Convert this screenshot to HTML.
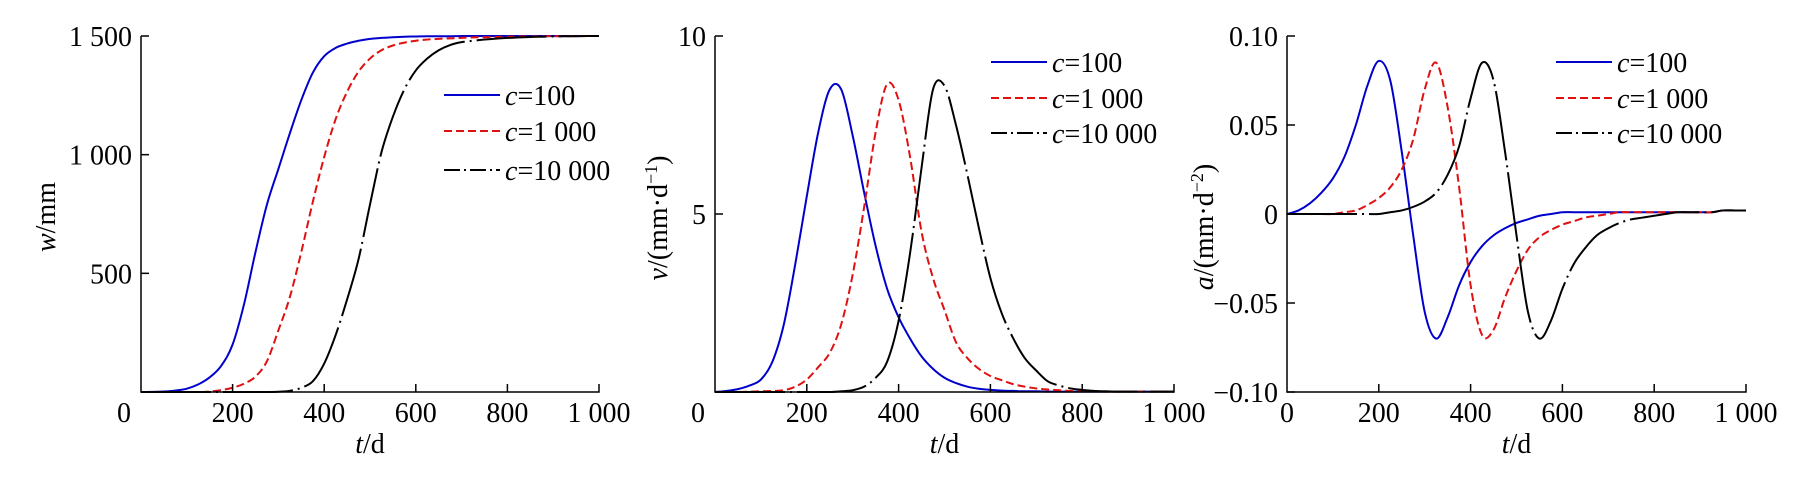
<!DOCTYPE html>
<html><head><meta charset="utf-8"><style>
html,body{margin:0;padding:0;background:#fff;}
svg{display:block;}
text{font-family:"Liberation Serif",serif;fill:#000;}
</style></head><body>
<svg id="chart" width="1797" height="478" viewBox="0 0 1797 478"></svg>
<script>
const tDays=[0,25,50,75,100,125,150,175,200,225,250,275,300,325,350,375,400,425,450,475,500,525,550,575,600,625,650,675,700,725,750,775,800,825,850,875,900,925,950,975,1000];
const seriesLabels=["c=100","c=1 000","c=10 000"];
const wC100=[0,0.5,2,6,14,32,62,110,200,370,590,790,940,1090,1230,1345,1415,1450,1468,1480,1488,1492,1495,1497,1498,1499,1499,1499,1500,1500,1500,1500,1500,1500,1500,1500,1500,1500,1500,1500,1500];
const wC1000=[0,0,0,0,0,0,2,8,18,35,65,130,260,400,590,800,990,1150,1265,1350,1405,1440,1460,1472,1480,1485,1488,1490,1492,1494,1495,1496,1497,1498,1498,1499,1499,1499,1500,1500,1500];
const wC10000=[0,0,0,0,0,0,0,0,0,0,0,0,1,5,18,45,120,240,390,560,790,1010,1160,1275,1355,1405,1440,1462,1474,1480,1485,1489,1492,1494,1496,1497,1498,1499,1499,1500,1500];
const vC100=[0,0.03,0.08,0.18,0.35,0.85,1.9,3.6,5.5,7.3,8.5,8.5,7.2,5.6,4.1,2.9,2.1,1.5,1.0,0.65,0.4,0.25,0.15,0.09,0.06,0.04,0.03,0.02,0.02,0.01,0.01,0.01,0.01,0.01,0.01,0.01,0.01,0.01,0.01,0.01,0.01];
const vC1000=[0,0,0,0.01,0.02,0.03,0.05,0.15,0.35,0.7,1.1,1.9,3.3,5.2,7.3,8.65,8.2,6.6,4.5,3.2,2.3,1.4,0.95,0.65,0.45,0.33,0.22,0.15,0.1,0.07,0.05,0.03,0.02,0.02,0.01,0.01,0.01,0.01,0.01,0.01,0.01];
const vC10000=[0,0,0,0,0,0,0,0,0,0,0,0.02,0.05,0.15,0.4,0.85,2.0,3.9,6.3,8.5,8.6,7.5,6.1,4.6,3.2,2.2,1.5,0.95,0.6,0.3,0.18,0.1,0.06,0.03,0.02,0.01,0.01,0.01,0.01,0.01,0.01];
const aC100=[0,0.002,0.006,0.012,0.02,0.032,0.05,0.072,0.086,0.075,0.035,-0.012,-0.055,-0.07,-0.058,-0.04,-0.027,-0.018,-0.012,-0.008,-0.005,-0.003,-0.001,0,0.001,0.001,0.001,0.001,0.001,0.001,0.001,0.001,0.001,0.001,0.001,0.001,0.001,0.001,0.002,0.002,0.002];
const aC1000=[0,0,0,0,0,0.001,0.002,0.005,0.009,0.015,0.025,0.042,0.07,0.085,0.06,0.015,-0.04,-0.068,-0.065,-0.047,-0.032,-0.02,-0.013,-0.009,-0.006,-0.004,-0.002,-0.001,0,0.001,0.001,0.001,0.001,0.001,0.001,0.001,0.001,0.001,0.002,0.002,0.002];
const aC10000=[0,0,0,0,0,0,0,0,0,0.001,0.002,0.004,0.007,0.012,0.022,0.038,0.065,0.085,0.075,0.035,-0.012,-0.055,-0.07,-0.06,-0.042,-0.028,-0.019,-0.012,-0.008,-0.005,-0.003,-0.002,-0.001,0,0.001,0.001,0.001,0.001,0.002,0.002,0.002];
const xTicks=[0,200,400,600,800,1000];
const xTickLabels=["0","200","400","600","800","1 000"];
const wTicks=[500,1000,1500];const wTickLabels=["500","1 000","1 500"];
const vTicks=[5,10];const vTickLabels=["5","10"];
const aTicks=[-0.1,-0.05,0,0.05,0.1];const aTickLabels=["\u22120.10","\u22120.05","0","0.05","0.10"];

const NS="http://www.w3.org/2000/svg";
const svg=document.getElementById('chart');
function mk(tag,attrs,parent,txt){const e=document.createElementNS(NS,tag);for(const k in attrs)e.setAttribute(k,attrs[k]);if(txt!==undefined)e.textContent=txt;(parent||svg).appendChild(e);return e;}
const styles=[{stroke:"#0000cc",dash:null,ldash:null},{stroke:"#e01010",dash:"8 4",ldash:"8 4"},{stroke:"#000",dash:"70 5 2 5",ldash:"16 4 2 4"}];

function smoothPath(pts){let d="M"+pts[0][0].toFixed(2)+","+pts[0][1].toFixed(2);
for(let i=0;i<pts.length-1;i++){const p0=pts[Math.max(0,i-1)],p1=pts[i],p2=pts[i+1],p3=pts[Math.min(pts.length-1,i+2)];
const c1=[p1[0]+(p2[0]-p0[0])/6,p1[1]+(p2[1]-p0[1])/6],c2=[p2[0]-(p3[0]-p1[0])/6,p2[1]-(p3[1]-p1[1])/6];
d+=" C"+c1[0].toFixed(2)+","+c1[1].toFixed(2)+" "+c2[0].toFixed(2)+","+c2[1].toFixed(2)+" "+p2[0].toFixed(2)+","+p2[1].toFixed(2);}return d;}

function panel(cfg){
 const g=mk('g',{});
 
 
 const X=t=>cfg.x0+(t-0)/1000*(cfg.x1-cfg.x0);
 const Y=v=>cfg.yb-(v-cfg.ymin)/(cfg.ymax-cfg.ymin)*(cfg.yb-cfg.yt);
 cfg.series.forEach((vals,i)=>{
  const pts=tDays.map((t,j)=>[X(t),Y(vals[j])]);
  const p=mk('path',{d:smoothPath(pts),fill:"none",stroke:styles[i].stroke,"stroke-width":"2"},g);
  if(styles[i].dash)p.setAttribute('stroke-dasharray',styles[i].dash);
  
  
 });
 const ax=mk('path',{d:`M${cfg.x0},${cfg.yt} V${cfg.yb} H${cfg.x1} V${cfg.yb-8}`,fill:"none",stroke:"#000","stroke-width":"1.5"},g);
 
 
 xTicks.forEach((t,i)=>{
  if(t>0&&t<1000){const tk=mk('line',{x1:X(t),x2:X(t),y1:cfg.yb,y2:cfg.yb-8,stroke:"#000","stroke-width":"1.5"},g);
   
   }
  let lx=X(t);if(t===0)lx+=cfg.zeroShift;
  const tl=mk('text',{x:lx,y:cfg.yb+30,"font-size":"28","text-anchor":"middle"},g,xTickLabels[i]);
  
  
 });
 cfg.yTicks.forEach((v,i)=>{
  const tk=mk('line',{x1:cfg.x0,x2:cfg.x0+8,y1:Y(v),y2:Y(v),stroke:"#000","stroke-width":"1.5"},g);
  
  
  const tl=mk('text',{x:cfg.x0-9,y:Y(v)+10,"font-size":"28","text-anchor":"end"},g,cfg.yTickLabels[i]);
  
  
 });
 const xt=mk('text',{x:(cfg.x0+cfg.x1)/2,y:cfg.yb+61,"font-size":"28","text-anchor":"middle"},g);
 
 
 mk('tspan',{"font-style":"italic"},xt,"t");mk('tspan',{},xt,"/d");
 const yt=mk('text',{x:0,y:0,"font-size":"28","text-anchor":"middle",transform:`translate(${cfg.ytx},${cfg.yty}) rotate(-90)`},g);
 
 
 mk('tspan',{"font-style":"italic"},yt,cfg.yVar);mk('tspan',{},yt,cfg.yUnit);
 if(cfg.sup){mk('tspan',{"font-size":"18",dy:"-10"},yt,cfg.sup);mk('tspan',{dy:"10"},yt,")");}
 seriesLabels.forEach((lab,i)=>{
  const ly=cfg.legY[i];
  const le=mk('g',{},g);
  
  
  const ln=mk('line',{x1:cfg.legX,x2:cfg.legX+56,y1:ly,y2:ly,stroke:styles[i].stroke,"stroke-width":"2"},le);
  if(styles[i].ldash)ln.setAttribute('stroke-dasharray',styles[i].ldash);
  const tx=mk('text',{x:cfg.legX+61,y:ly+10,"font-size":"28"},le);
  mk('tspan',{"font-style":"italic"},tx,"c");mk('tspan',{},tx,lab.slice(1));
 });
}
panel({name:'displacement-panel',x0:141,x1:599,yt:36,yb:392,ymin:0,ymax:1500,series:[wC100,wC1000,wC10000],yTicks:wTicks,yTickLabels:wTickLabels,zeroShift:-17,ytx:55,yty:217,yVar:"w",yUnit:"/mm",legX:444,legY:[95,131,170]});
panel({name:'velocity-panel',x0:715,x1:1174,yt:36,yb:392,ymin:0,ymax:10,series:[vC100,vC1000,vC10000],yTicks:vTicks,yTickLabels:vTickLabels,zeroShift:-17,ytx:667,yty:218,yVar:"v",yUnit:"/(mm\u00b7d",sup:"\u22121",legX:991,legY:[62,98,133]});
panel({name:'acceleration-panel',x0:1287,x1:1746,yt:36,yb:392,ymin:-0.1,ymax:0.1,series:[aC100,aC1000,aC10000],yTicks:aTicks,yTickLabels:aTickLabels,zeroShift:0,ytx:1213,yty:227,yVar:"a",yUnit:"/(mm\u00b7d",sup:"\u22122",legX:1556,legY:[62,98,133]});
</script>
</body></html>
